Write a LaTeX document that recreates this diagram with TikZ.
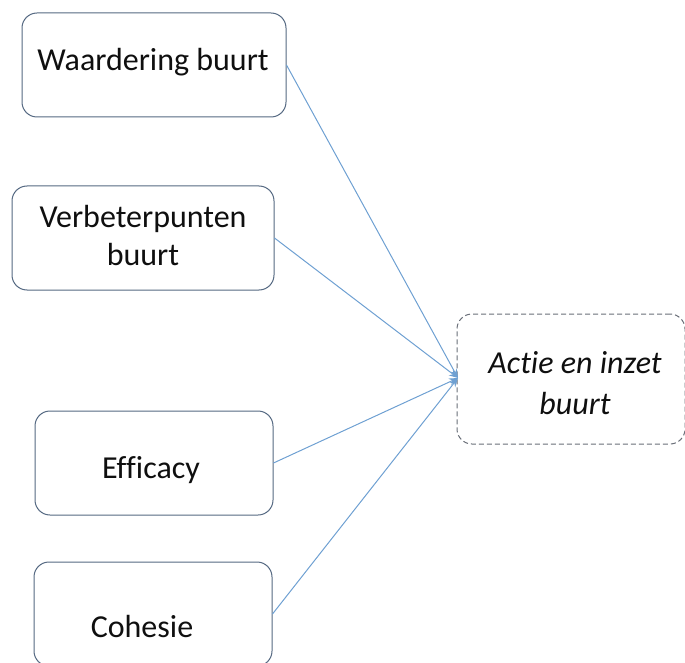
\documentclass[tikz,border=0pt]{standalone}
\usepackage{fontspec}
\setmainfont[Ligatures=NoCommon]{Carlito}
\usetikzlibrary{arrows.meta}
\definecolor{boxline}{RGB}{85,105,130}
\definecolor{linkblue}{RGB}{110,160,210}
\definecolor{dashgray}{RGB}{105,110,120}
\definecolor{ink}{RGB}{15,15,15}
\begin{document}
\begin{tikzpicture}[x=1pt,y=-1pt,
  factor/.style={draw=boxline, line width=1pt, rounded corners=15pt, fill=white,
    minimum width=#1, minimum height=104pt, inner sep=0pt},
  label/.style={text=ink, align=center, inner sep=0pt,
    font=\fontsize{32}{38}\selectfont},
  outcome/.style={draw=dashgray, line width=1pt, dash pattern=on 5pt off 3pt,
    rounded corners=15pt, minimum width=228pt, minimum height=130pt,
    inner sep=0pt},
  link/.style={draw=linkblue, line width=1pt, -{Stealth[length=9pt,width=7pt]}}]
  \useasboundingbox (0,0) rectangle (685,663);
  % factor boxes
  \node[factor=264pt] (w) at (154,65) {};
  \node[label] (wt) at (153,62) {Waardering buurt};
  \node[factor=262pt] (v) at (143,238) {};
  \node[label] (vt) at (143,236) {Verbeterpunten\\buurt};
  \node[factor=238pt] (e) at (154,463) {};
  \node[label] (et) at (151,470) {Efficacy};
  \node[factor=238pt] (c) at (153,614) {};
  \node[label] (ct) at (142,627) {Cohesie};
  % outcome box
  \node[outcome] (a) at (571,379) {};
  \node[label, font=\fontsize{32}{41}\selectfont\itshape] (at) at (575,383)
    {Actie en inzet\\buurt};
  \coordinate (t) at (458,378);
  % connectors
  \draw[link] (w.east) -- (t);
  \draw[link] (v.east) -- (t);
  \draw[link] (e.east) -- (t);
  \draw[link] (c.east) -- (t);
\end{tikzpicture}
\end{document}
